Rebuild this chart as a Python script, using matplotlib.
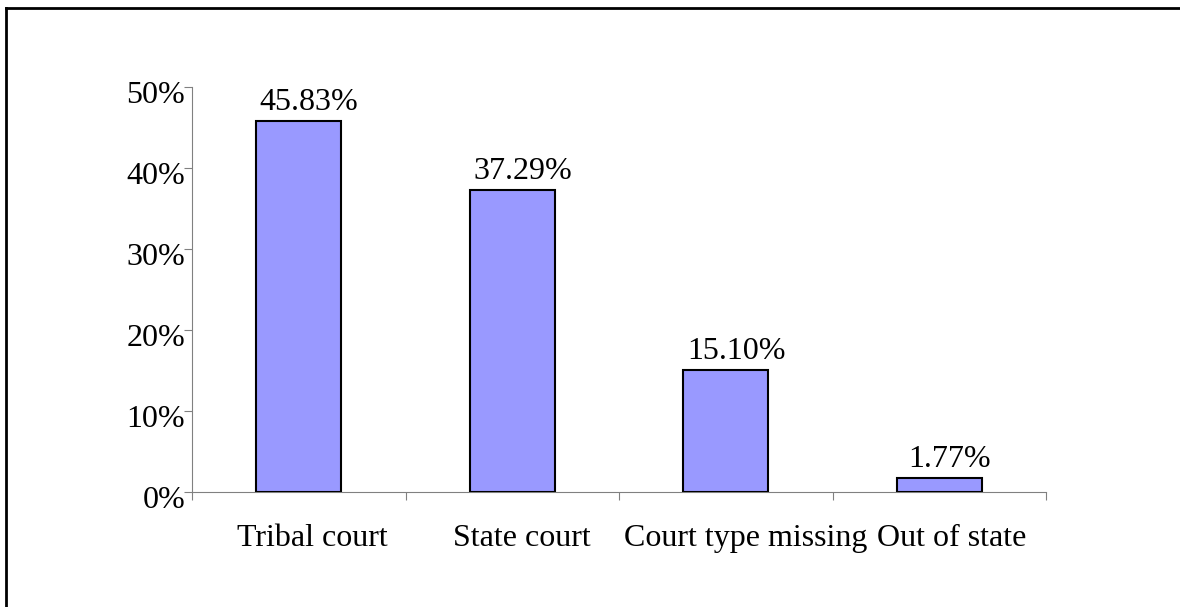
import matplotlib
matplotlib.use("Agg")
import matplotlib.pyplot as plt
from matplotlib.lines import Line2D
import matplotlib.transforms as mtransforms
import numpy as np

categories = ["Tribal court", "State court", "Court type missing", "Out of state"]
values = [45.83, 37.29, 15.10, 1.77]
value_labels = ["45.83%", "37.29%", "15.10%", "1.77%"]
y_ticks = [0, 10, 20, 30, 40, 50]
y_tick_labels = ["0%", "10%", "20%", "30%", "40%", "50%"]

plt.rcParams['font.family'] = ['Liberation Serif', 'DejaVu Serif']
FS = 23

W, H = 1180, 607
fig = plt.figure(figsize=(W / 100, H / 100), dpi=100)
fig.patch.set_facecolor("white")

ax = fig.add_axes([192 / W, 1 - 492 / H, (1046 - 192) / W, (492 - 87) / H])

x = np.arange(len(categories))
ax.bar(x, values, width=0.4, color="#9999FF", edgecolor="black", linewidth=1.5, zorder=3)

# value labels (slightly right of bar centre, as in the original layout)
for xi, v, lab in zip(x, values, value_labels):
    ax.annotate(lab, (xi, v), xytext=(7.5, 8), textcoords="offset points",
                ha="center", va="baseline", fontsize=FS, color="black")

ax.set_xlim(-0.5, len(categories) - 0.5)
ax.set_ylim(0, 50)

ax.set_yticks(y_ticks)
ax.set_yticklabels(y_tick_labels, fontsize=FS)

# major ticks at category boundaries, labels at centers (minor)
ax.set_xticks(np.arange(len(categories) + 1) - 0.5)
ax.set_xticklabels([])
ax.set_xticks(x, minor=True)
ax.set_xticklabels(categories, minor=True, fontsize=FS)
ax.tick_params(axis="x", which="major", direction="out", length=6, width=0.8, color="#808080")
ax.tick_params(axis="x", which="minor", length=0, pad=23)
ax.tick_params(axis="y", direction="out", length=6, width=0.8, color="#808080", pad=-1)

for s in ["top", "right"]:
    ax.spines[s].set_visible(False)
for s in ["left", "bottom"]:
    ax.spines[s].set_color("#808080")
    ax.spines[s].set_linewidth(0.8)

# shift y tick labels slightly downward
offset = mtransforms.ScaledTranslation(0, -5 / 100, fig.dpi_scale_trans)
for lbl in ax.get_yticklabels():
    lbl.set_transform(lbl.get_transform() + offset)

# category labels sit slightly right of bar centres in the original layout
x_shift_px = [14, 10, 20, 12]
for lbl, dx in zip(ax.get_xticklabels(minor=True), x_shift_px):
    lbl.set_transform(lbl.get_transform() + mtransforms.ScaledTranslation(dx / 100, 0, fig.dpi_scale_trans))

# figure border (only top and left visible)
fig.add_artist(Line2D([5.5 / W, 1.0], [1 - 8 / H, 1 - 8 / H], color="black", lw=2, transform=fig.transFigure))
fig.add_artist(Line2D([5.5 / W, 5.5 / W], [0, 1 - 8 / H], color="black", lw=2, transform=fig.transFigure))

fig.savefig("out.png", dpi=100, facecolor="white")
